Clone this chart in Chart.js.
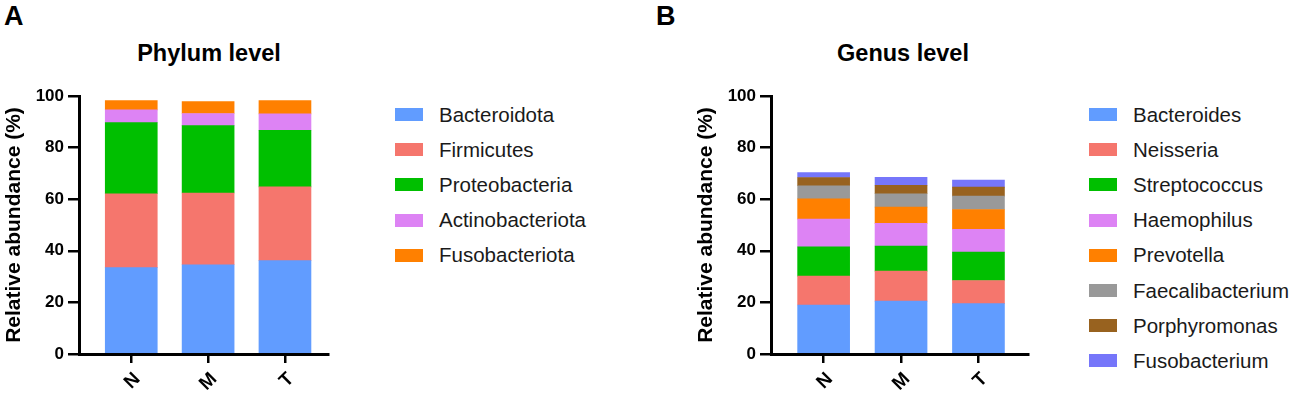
<!DOCTYPE html>
<html>
<head>
<meta charset="utf-8">
<script src="https://cdn.jsdelivr.net/npm/chart.js@4.4.1/dist/chart.umd.min.js"></script>
<style>
  body { margin: 0; background: #fff; font-family: Arial, "Liberation Sans", sans-serif; }
  #wrap { position: relative; width: 1299px; height: 397px; overflow: hidden; }
  .letter { position: absolute; top: 1px; font-weight: bold; font-size: 27px; color: #000; }
  .title { position: absolute; top: 40px; width: 260px; text-align: center; font-weight: bold; font-size: 23.5px; color: #000; }
  canvas { position: absolute; top: 80px; }
  .legend { position: absolute; top: 97px; }
  .legend .row { height: 35.2px; display: flex; align-items: center; font-size: 20.5px; color: #1a1a1a; }
  .legend .box { width: 28px; height: 13px; margin-right: 16px; }
</style>
</head>
<body>
<div id="wrap">
  <div class="letter" style="left:4px">A</div>
  <div class="letter" style="left:656px">B</div>
  <div class="title" style="left:79px">Phylum level</div>
  <div class="title" style="left:773px">Genus level</div>
  <canvas id="phylumChart" width="345" height="317" style="left:0px"></canvas>
  <canvas id="genusChart" width="345" height="317" style="left:692px"></canvas>
  <div class="legend" id="phylumLegend" style="left:395px"></div>
  <div class="legend" id="genusLegend" style="left:1089px"></div>
</div>
<script>
// groups on the x axis
const groups = ['N', 'M', 'T'];

// phylum level (%), one array per taxon, order N, M, T
const phylumNames = ['Bacteroidota', 'Firmicutes', 'Proteobacteria', 'Actinobacteriota', 'Fusobacteriota'];
const bacteroidota = [33.5, 34.6, 36.2];
const firmicutes = [28.6, 27.8, 28.6];
const proteobacteria = [27.6, 26.1, 21.9];
const actinobacteriota = [4.9, 4.7, 6.4];
const fusobacteriota = [3.6, 4.6, 5.1];

// genus level (%)
const genusNames = ['Bacteroides', 'Neisseria', 'Streptococcus', 'Haemophilus', 'Prevotella', 'Faecalibacterium', 'Porphyromonas', 'Fusobacterium'];
const bacteroides = [19.0, 20.5, 19.5];
const neisseria = [11.2, 11.6, 9.0];
const streptococcus = [11.3, 9.7, 11.0];
const haemophilus = [10.8, 8.8, 8.8];
const prevotella = [7.8, 6.3, 7.7];
const faecalibacterium = [5.1, 5.2, 5.2];
const porphyromonas = [3.2, 3.3, 3.5];
const fusobacterium = [1.9, 3.1, 2.7];

const yTicks = [0, 20, 40, 60, 80, 100];

const colors = ['#619CFF', '#F5766D', '#00BF00', '#DD83F4', '#FF8000', '#999999', '#98621F', '#7676FA'];

function makeDatasets(names, series){
    return names.map((name, i) => ({
        label: name,
        data: series[i].map((v, j) => ({x: j, y: v})),
        backgroundColor: colors[i],
        borderWidth: 0,
        barThickness: 52
    }));
}

function buildLegend(el, names){
    names.forEach((name, i) => {
        const row = document.createElement('div');
        row.className = 'row';
        row.innerHTML = '<span class="box" style="background:' + colors[i] + '"></span><span>' + name + '</span>';
        el.appendChild(row);
    });
}

const axisFont = {family: 'Arial, "Liberation Sans", sans-serif', weight: 'bold', size: 17};

function makeOptions(xMax, padRight){
    return {
        responsive: false,
        animation: false,
        layout: {padding: {top: 16, right: padRight, left: 0, bottom: 0}},
        plugins: {legend: {display: false}, tooltip: {enabled: false}, title: {display: false}},
        scales: {
            x: {
                type: 'linear',
                stacked: true,
                offset: false,
                min: -0.68,
                max: xMax,
                afterFit(scale){ scale.height = 43; },
                border: {color: '#000', width: 3},
                grid: {offset: false, drawOnChartArea: false, drawTicks: true, tickLength: 9, color: '#000', lineWidth: 2.5},
                ticks: {
                    stepSize: 1,
                    includeBounds: false,
                    minRotation: 45,
                    maxRotation: 45,
                    padding: 5,
                    labelOffset: 6,
                    color: '#000',
                    font: {family: 'Arial, "Liberation Sans", sans-serif', weight: 'bold', size: 19},
                    callback: (v) => groups[v] !== undefined ? groups[v] : ''
                }
            },
            y: {
                stacked: true,
                min: 0,
                max: 100,
                afterFit(scale){ scale.width = 79; },
                afterBuildTicks(scale){ scale.ticks = yTicks.map(v => ({value: v})); },
                border: {color: '#000', width: 3},
                grid: {drawOnChartArea: false, drawTicks: true, tickLength: 11, color: '#000', lineWidth: 2.5},
                ticks: {padding: 4, color: '#000', font: axisFont},
                title: {
                    display: true,
                    text: 'Relative abundance (%)',
                    color: '#000',
                    padding: {top: 2, bottom: 0},
                    font: {family: 'Arial, "Liberation Sans", sans-serif', weight: 'bold', size: 21}
                }
            }
        }
    };
}

new Chart(document.getElementById('phylumChart'), {
    type: 'bar',
    data: {datasets: makeDatasets(phylumNames, [bacteroidota, firmicutes, proteobacteria, actinobacteriota, fusobacteriota])},
    options: makeOptions(2.56, 17)
});

new Chart(document.getElementById('genusChart'), {
    type: 'bar',
    data: {datasets: makeDatasets(genusNames, [bacteroides, neisseria, streptococcus, haemophilus, prevotella, faecalibacterium, porphyromonas, fusobacterium])},
    options: makeOptions(2.64, 9)
});

buildLegend(document.getElementById('phylumLegend'), phylumNames);
buildLegend(document.getElementById('genusLegend'), genusNames);
</script>
</body>
</html>
